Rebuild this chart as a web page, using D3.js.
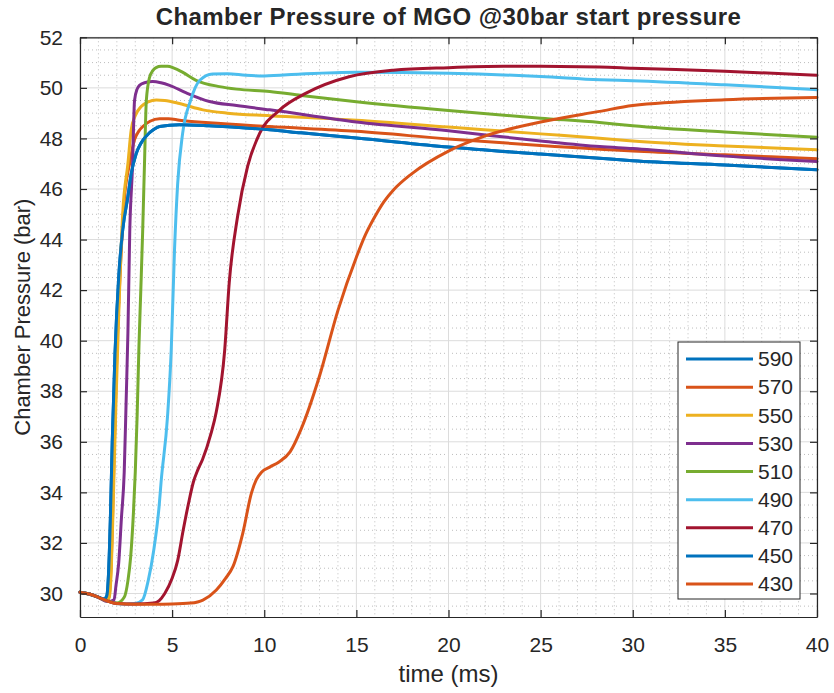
<!DOCTYPE html>
<html><head><meta charset="utf-8">
<script src="https://cdn.jsdelivr.net/npm/d3@7"></script>
<style>body{margin:0;background:#fff}svg{display:block}text{font-family:"Liberation Sans",Arial,Helvetica,sans-serif;fill:#262626}</style>
</head><body>
<script>
// ---------- data (time in ms, pressure in bar) ----------
const seriesNames = ["590","570","550","530","510","490","470","450","430"];
const seriesColors = ["#0072BD","#D95319","#EDB120","#7E2F8E","#77AC30","#4DBEEE","#A2142F","#0072BD","#D95319"];

const t590 = [0,0.5,1.0,1.3,1.45,1.55,1.65,1.75,1.9,2.1,2.32,2.6,2.78,3.05,3.3,3.6,4.0,4.32,5.4,7,10.3,12,15,20,25,28.2,30,35,40];
const p590 = [30.05,29.98,29.85,29.78,29.9,30.8,33.0,36.0,39.5,42.5,44.4,45.7,46.6,47.4,47.8,48.1,48.35,48.47,48.54,48.5,48.34,48.22,48.02,47.66,47.38,47.22,47.12,46.95,46.76];

const t570 = [0,0.5,1.0,1.4,1.55,1.65,1.75,1.85,2.0,2.2,2.42,2.69,2.96,3.2,3.41,3.8,4.32,4.8,5.4,7,10.3,15,20,25,30,35,40];
const p570 = [30.05,29.98,29.85,29.72,29.8,30.5,32.5,35.5,39.5,43.0,45.7,47.0,47.95,48.3,48.47,48.68,48.78,48.78,48.72,48.62,48.47,48.28,47.98,47.72,47.5,47.35,47.2];

const t550 = [0,0.5,1.0,1.45,1.6,1.7,1.8,1.95,2.1,2.32,2.6,2.78,3.0,3.32,3.7,4.14,4.6,5.4,6.67,8,10.3,15,20,25,28.2,30,35,40];
const p550 = [30.05,29.98,29.85,29.7,29.9,31.0,33.5,37.5,41.0,45.05,47.0,48.34,48.9,49.26,49.45,49.52,49.5,49.38,49.13,49.0,48.9,48.72,48.45,48.18,48.01,47.9,47.7,47.55];

const t530 = [0,0.5,1.0,1.5,1.85,1.95,2.1,2.25,2.4,2.5,2.6,2.7,2.85,2.96,3.1,3.23,3.5,3.95,4.4,4.86,5.77,7.03,8.5,10.3,15,20,25,28.2,30,35,40];
const p530 = [30.05,29.98,29.85,29.68,29.75,30.3,31.2,33.0,34.8,37.5,40.3,44.3,46.9,49.5,49.95,50.1,50.2,50.25,50.2,50.1,49.8,49.46,49.3,49.13,48.65,48.3,47.9,47.68,47.6,47.3,47.09];

const t510 = [0,0.5,1.0,1.5,2.0,2.4,2.6,2.75,2.9,3.0,3.1,3.2,3.3,3.4,3.5,3.6,3.77,3.95,4.13,4.4,4.75,5.1,5.56,6.3,7.57,8.5,10.3,12,15,20,25,28.2,30,35,40];
const p510 = [30.05,29.98,29.85,29.7,29.62,29.85,30.5,31.45,33.2,34.8,37.0,39.8,42.0,44.3,47.0,49.5,50.4,50.68,50.8,50.85,50.85,50.78,50.62,50.3,50.05,49.95,49.86,49.7,49.45,49.1,48.8,48.63,48.5,48.25,48.05];

const t490 = [0,0.5,1.0,1.5,2.0,2.5,3.0,3.4,3.7,4.0,4.3,4.4,4.75,4.95,5.13,5.3,5.57,6.0,6.5,7.2,8,9,10,12,15,20,25,28.2,30,35,40];
const p490 = [30.05,29.98,29.85,29.7,29.6,29.58,29.6,29.75,30.5,31.7,33.5,34.4,37.0,39.6,43.6,46.2,48.2,49.5,50.3,50.55,50.56,50.5,50.47,50.55,50.62,50.58,50.45,50.32,50.28,50.12,49.93];

const t470 = [0,0.5,1.0,1.5,2.0,3.0,4.0,4.3,4.6,5.0,5.3,5.6,5.9,6.15,6.4,6.65,7.1,7.4,7.85,8.1,8.55,9.1,9.75,10.8,12.3,14.6,17,20,23,25,28.2,30,35,40];
const p470 = [30.05,29.98,29.85,29.7,29.6,29.58,29.62,29.72,30.0,30.6,31.3,32.5,33.6,34.4,34.9,35.3,36.3,37.2,39.6,42.3,44.9,46.9,48.2,49.1,49.8,50.44,50.7,50.8,50.85,50.85,50.83,50.78,50.66,50.5];

const t450 = [0,0.5,1.0,1.3,1.45,1.55,1.65,1.75,1.9,2.1,2.32,2.6,2.78,3.05,3.3,3.6,4.0,4.32,5.4,7,10.3,12,15,20,25,28.2,30,35,40];
const p450 = [30.05,29.98,29.85,29.78,29.9,30.8,33.0,36.0,39.5,42.5,44.4,45.7,46.6,47.4,47.8,48.1,48.35,48.47,48.54,48.5,48.34,48.22,48.02,47.66,47.38,47.22,47.12,46.95,46.76];

const t430 = [0,0.5,1.0,1.5,2.0,3.0,4.0,5.0,6.0,6.67,7.4,7.9,8.3,8.84,9.3,9.57,9.85,10.3,10.8,11.4,12,13,14,15,15.5,16,16.5,17,18,20,22,25,28.2,30,35,40];
const p430 = [30.05,29.98,29.85,29.7,29.6,29.57,29.57,29.58,29.62,29.74,30.14,30.6,31.06,32.4,33.96,34.5,34.8,35.0,35.2,35.6,36.5,38.6,41.2,43.3,44.2,44.9,45.5,45.95,46.6,47.5,48.1,48.65,49.07,49.3,49.53,49.62];

const xTicks = [0,5,10,15,20,25,30,35,40];
const yTicks = [30,32,34,36,38,40,42,44,46,48,50,52];
const titleText = "Chamber Pressure of MGO @30bar start pressure";
const xLabel = "time (ms)";
const yLabel = "Chamber Pressure (bar)";

const seriesTimes = [t590,t570,t550,t530,t510,t490,t470,t450,t430];
const seriesValues = [p590,p570,p550,p530,p510,p490,p470,p450,p430];

// ---------- drawing ----------
const W = 834, H = 693;
const L = 80, R = 817, T = 37.3, B = 617;
const svg = d3.select("body").append("svg").attr("width", W).attr("height", H);
const x = d3.scaleLinear().domain([0, 40]).range([L, R]);
const y = d3.scaleLinear().domain([29.07, 52]).range([B, T]);

const grid = svg.append("g");
const xMinor = d3.range(0, 40.001, 1).filter(v => v % 5 !== 0);
const yMinor = d3.range(29.5, 52.001, 0.5).filter(v => Math.abs(v % 2) > 1e-6);
grid.selectAll(".xm").data(xMinor).join("line")
  .attr("x1", d => x(d)).attr("x2", d => x(d)).attr("y1", T).attr("y2", B)
  .attr("stroke", "#bdbdbd").attr("stroke-width", 1).attr("stroke-dasharray", "1,3");
grid.selectAll(".ym").data(yMinor).join("line")
  .attr("y1", d => y(d)).attr("y2", d => y(d)).attr("x1", L).attr("x2", R)
  .attr("stroke", "#bdbdbd").attr("stroke-width", 1).attr("stroke-dasharray", "1,3");
grid.selectAll(".xg").data(xTicks).join("line")
  .attr("x1", d => x(d)).attr("x2", d => x(d)).attr("y1", T).attr("y2", B)
  .attr("stroke", "#dcdcdc").attr("stroke-width", 1);
grid.selectAll(".yg").data(yTicks).join("line")
  .attr("y1", d => y(d)).attr("y2", d => y(d)).attr("x1", L).attr("x2", R)
  .attr("stroke", "#dcdcdc").attr("stroke-width", 1);

const line = d3.line().curve(d3.curveMonotoneX);
const plot = svg.append("g");
seriesNames.forEach((name, i) => {
  const pts = seriesTimes[i].map((t, j) => [x(t), y(seriesValues[i][j])]);
  plot.append("path").attr("d", line(pts)).attr("fill", "none")
    .attr("stroke", seriesColors[i]).attr("stroke-width", 3)
    .attr("stroke-linejoin", "round").attr("stroke-linecap", "round");
});

const tl = 7;
const axB = svg.append("g").attr("transform", `translate(0,${B})`)
  .call(d3.axisBottom(x).tickValues(xTicks).tickSizeInner(-tl).tickSizeOuter(0).tickPadding(20));
const axT = svg.append("g").attr("transform", `translate(0,${T})`)
  .call(d3.axisTop(x).tickValues(xTicks).tickSizeInner(-tl).tickSizeOuter(0).tickFormat(""));
const axL = svg.append("g").attr("transform", `translate(${L},0)`)
  .call(d3.axisLeft(y).tickValues(yTicks).tickSizeInner(-tl).tickSizeOuter(0).tickPadding(17));
const axR = svg.append("g").attr("transform", `translate(${R},0)`)
  .call(d3.axisRight(y).tickValues(yTicks).tickSizeInner(-tl).tickSizeOuter(0).tickFormat(""));
[axB, axT, axL, axR].forEach(a => {
  a.selectAll(".domain").attr("stroke", "#262626").attr("stroke-width", 1.2);
  a.selectAll(".tick line").attr("stroke", "#262626").attr("stroke-width", 1.2);
  a.selectAll("text").attr("font-size", 21).attr("fill", "#262626")
    .attr("font-family", '"Liberation Sans",Arial,sans-serif');
});

svg.append("text").attr("x", (L + R) / 2).attr("y", 25).attr("text-anchor", "middle")
  .attr("font-size", 24).attr("font-weight", "bold").attr("letter-spacing", 0.4)
  .attr("fill", "#111").text(titleText);
svg.append("text").attr("x", (L + R) / 2).attr("y", 682).attr("text-anchor", "middle")
  .attr("font-size", 24).text(xLabel);
svg.append("text").attr("transform", `translate(30,${(T + B) / 2 - 10}) rotate(-90)`)
  .attr("text-anchor", "middle").attr("font-size", 22).text(yLabel);

const lg = svg.append("g");
lg.append("rect").attr("x", 678).attr("y", 342).attr("width", 122).attr("height", 257)
  .attr("fill", "#fff").attr("stroke", "#262626").attr("stroke-width", 1);
const ly = d3.scalePoint().domain(seriesNames).range([359, 584]);
seriesNames.forEach((name, i) => {
  lg.append("line").attr("x1", 686).attr("x2", 753).attr("y1", ly(name)).attr("y2", ly(name))
    .attr("stroke", seriesColors[i]).attr("stroke-width", 3);
  lg.append("text").attr("x", 758).attr("y", ly(name)).attr("dy", "0.35em")
    .attr("font-size", 21).text(name);
});
</script>
</body></html>
